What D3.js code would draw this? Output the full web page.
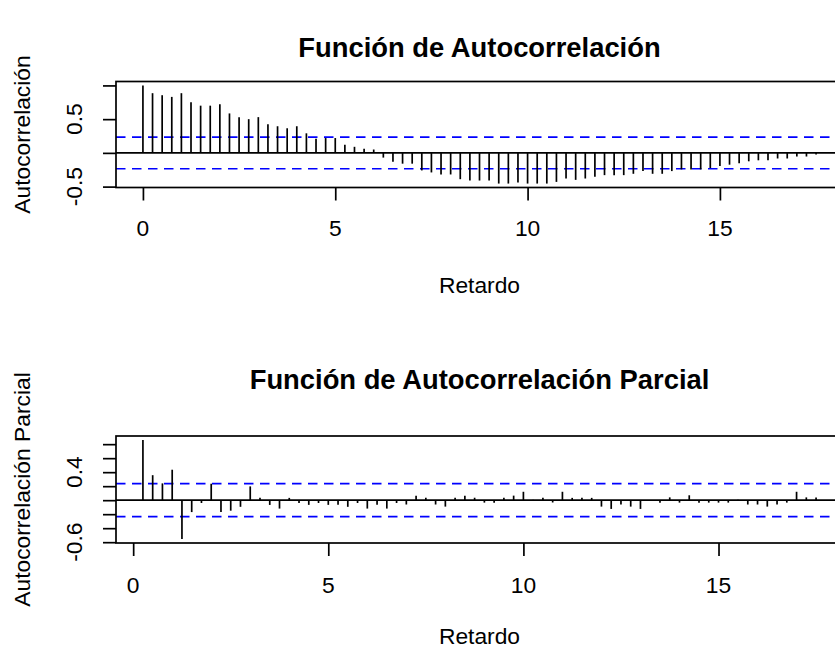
<!DOCTYPE html>
<html>
<head>
<meta charset="utf-8">
<script src="https://cdn.jsdelivr.net/npm/d3@7"></script>
<style>
  body { margin: 0; background: #fff; }
  text { font-family: "Liberation Sans", Arial, Helvetica, sans-serif; fill: #000; }
</style>
</head>
<body>
<svg id="chart" width="835" height="653"></svg>
<script>
// Quarterly series: lags are expressed in years (lag / frequency)
const frequency = 4;

// Sample autocorrelations, lag 0 .. 17.5
const acfValues = [
  1.00, 0.885, 0.855, 0.83, 0.885, 0.75, 0.70, 0.70, 0.72, 0.585,
  0.53, 0.50, 0.53, 0.425, 0.395, 0.365, 0.395, 0.29, 0.21, 0.22,
  0.22, 0.12, 0.09, 0.06, 0.05, -0.07, -0.13, -0.16, -0.16, -0.26,
  -0.29, -0.32, -0.32, -0.39, -0.41, -0.41, -0.41, -0.455, -0.455, -0.44,
  -0.455, -0.455, -0.455, -0.43, -0.38, -0.40, -0.38, -0.355, -0.33, -0.33,
  -0.33, -0.31, -0.27, -0.31, -0.31, -0.27, -0.245, -0.245, -0.245, -0.225,
  -0.195, -0.175, -0.155, -0.125, -0.11, -0.11, -0.083, -0.083, -0.054, -0.054,
  -0.024
];

// Sample partial autocorrelations, lag 0.25 .. 17.5
const pacfValues = [
  0.86, 0.357, 0.24, 0.435, -0.555, -0.17, -0.04, 0.235, -0.17, -0.15,
  -0.095, 0.197, 0.033, -0.068, -0.12, 0.033, -0.04, -0.067, -0.04, -0.067,
  -0.067, -0.095, -0.04, -0.12, -0.065, -0.12, -0.04, -0.062, 0.065, 0.035,
  -0.062, -0.092, 0.035, 0.065, 0.035, -0.035, -0.035, 0.035, 0.065, 0.12,
  0.005, 0.033, -0.033, 0.12, 0.033, 0.033, 0.033, -0.092, -0.125, -0.062,
  -0.092, -0.125, -0.005, -0.035, 0.04, -0.035, 0.07, -0.035, -0.035, -0.035,
  -0.035, 0.005, -0.062, -0.062, -0.092, -0.062, -0.035, 0.12, 0.04, 0.04
];

// 95% white-noise bound
const confLimit = 0.235;

const acfLags = acfValues.map((_, i) => i / frequency);
const pacfLags = pacfValues.map((_, i) => (i + 1) / frequency);

const xTicks = [0, 5, 10, 15];
const acfYTicks = [-0.5, 0, 0.5, 1.0];
const acfYLabels = ["-0.5", "0.5"];
const pacfYTicks = [-0.6, -0.4, -0.2, 0, 0.2, 0.4, 0.6, 0.8];
const pacfYLabels = ["-0.6", "0.4"];

const titles = ["Función de Autocorrelación", "Función de Autocorrelación Parcial"];
const yTitles = ["Autocorrelación", "Autocorrelación Parcial"];
const xTitle = "Retardo";

const svg = d3.select("#chart");
svg.append("rect").attr("width", 835).attr("height", 653).attr("fill", "#fff");

const fontSize = 22.8;
const lw = 1.7;

// R-style axis range: data range padded by 4% on both sides
function padded(ext) {
  const r = ext[1] - ext[0];
  return [ext[0] - 0.04 * r, ext[1] + 0.04 * r];
}

function panel(opt) {
  const { lags, values, top, bottom, left, right, yTicks, yLabels,
          title, yTitle, titleY, tickLabelY, xTitleY } = opt;

  const x = d3.scaleLinear()
    .domain(padded(d3.extent(lags)))
    .range([left, right]);
  const yExt = d3.extent(values.concat([confLimit, -confLimit]));
  const y = d3.scaleLinear()
    .domain(padded(yExt))
    .range([bottom, top]);

  const g = svg.append("g");

  // reference line at zero
  g.append("line")
    .attr("x1", left).attr("x2", right)
    .attr("y1", y(0)).attr("y2", y(0))
    .attr("stroke", "#000").attr("stroke-width", lw);

  // confidence bounds
  g.selectAll("line.ci").data([confLimit, -confLimit]).join("line")
    .attr("class", "ci")
    .attr("x1", left).attr("x2", right)
    .attr("y1", d => y(d)).attr("y2", d => y(d))
    .attr("stroke", "#0000ff").attr("stroke-width", lw)
    .attr("stroke-dasharray", "9.5,6.5");

  // spikes
  g.selectAll("line.spike").data(lags.map((l, i) => [l, values[i]])).join("line")
    .attr("class", "spike")
    .attr("x1", d => x(d[0])).attr("x2", d => x(d[0]))
    .attr("y1", y(0)).attr("y2", d => y(d[1]))
    .attr("stroke", "#000").attr("stroke-width", lw);

  // frame
  g.append("rect")
    .attr("x", left).attr("y", top)
    .attr("width", right - left).attr("height", bottom - top)
    .attr("fill", "none").attr("stroke", "#000").attr("stroke-width", lw);

  // x axis
  const xAxis = d3.axisBottom(x).tickValues(xTicks).tickSize(13).tickFormat(d3.format("d"));
  const xg = g.append("g").attr("transform", `translate(0,${bottom})`).call(xAxis);
  xg.select(".domain").remove();
  xg.selectAll(".tick line").attr("stroke", "#000").attr("stroke-width", lw);
  xg.selectAll(".tick text").remove();
  g.selectAll("text.xt").data(xTicks).join("text")
    .attr("class", "xt")
    .attr("x", d => x(d)).attr("y", tickLabelY)
    .attr("text-anchor", "middle").attr("font-size", fontSize)
    .text(d => d);

  // y axis
  const yAxis = d3.axisLeft(y).tickValues(yTicks).tickSize(13);
  const yg = g.append("g").attr("transform", `translate(${left},0)`).call(yAxis);
  yg.select(".domain").remove();
  yg.selectAll(".tick line").attr("stroke", "#000").attr("stroke-width", lw);
  yg.selectAll(".tick text").remove();
  g.selectAll("text.yt").data(yLabels).join("text")
    .attr("class", "yt")
    .attr("transform", d => `translate(82,${y(+d)}) rotate(-90)`)
    .attr("text-anchor", "middle").attr("font-size", fontSize)
    .text(d => d);

  // titles
  g.append("text")
    .attr("x", (left + right) / 2).attr("y", titleY)
    .attr("text-anchor", "middle").attr("font-size", fontSize * 1.2)
    .attr("font-weight", "bold")
    .text(title);
  g.append("text")
    .attr("x", (left + right) / 2).attr("y", xTitleY)
    .attr("text-anchor", "middle").attr("font-size", fontSize)
    .text(xTitle);
  g.append("text")
    .attr("transform", `translate(30,${(top + bottom) / 2}) rotate(-90)`)
    .attr("text-anchor", "middle").attr("font-size", fontSize)
    .text(yTitle);
}

panel({
  lags: acfLags, values: acfValues,
  top: 81.5, bottom: 187.5, left: 116, right: 843,
  yTicks: acfYTicks, yLabels: acfYLabels,
  title: titles[0], yTitle: yTitles[0],
  titleY: 57, tickLabelY: 236, xTitleY: 293
});

panel({
  lags: pacfLags, values: pacfValues,
  top: 436, bottom: 543, left: 116, right: 843,
  yTicks: pacfYTicks, yLabels: pacfYLabels,
  title: titles[1], yTitle: yTitles[1],
  titleY: 389, tickLabelY: 593, xTitleY: 644
});
</script>
</body>
</html>
